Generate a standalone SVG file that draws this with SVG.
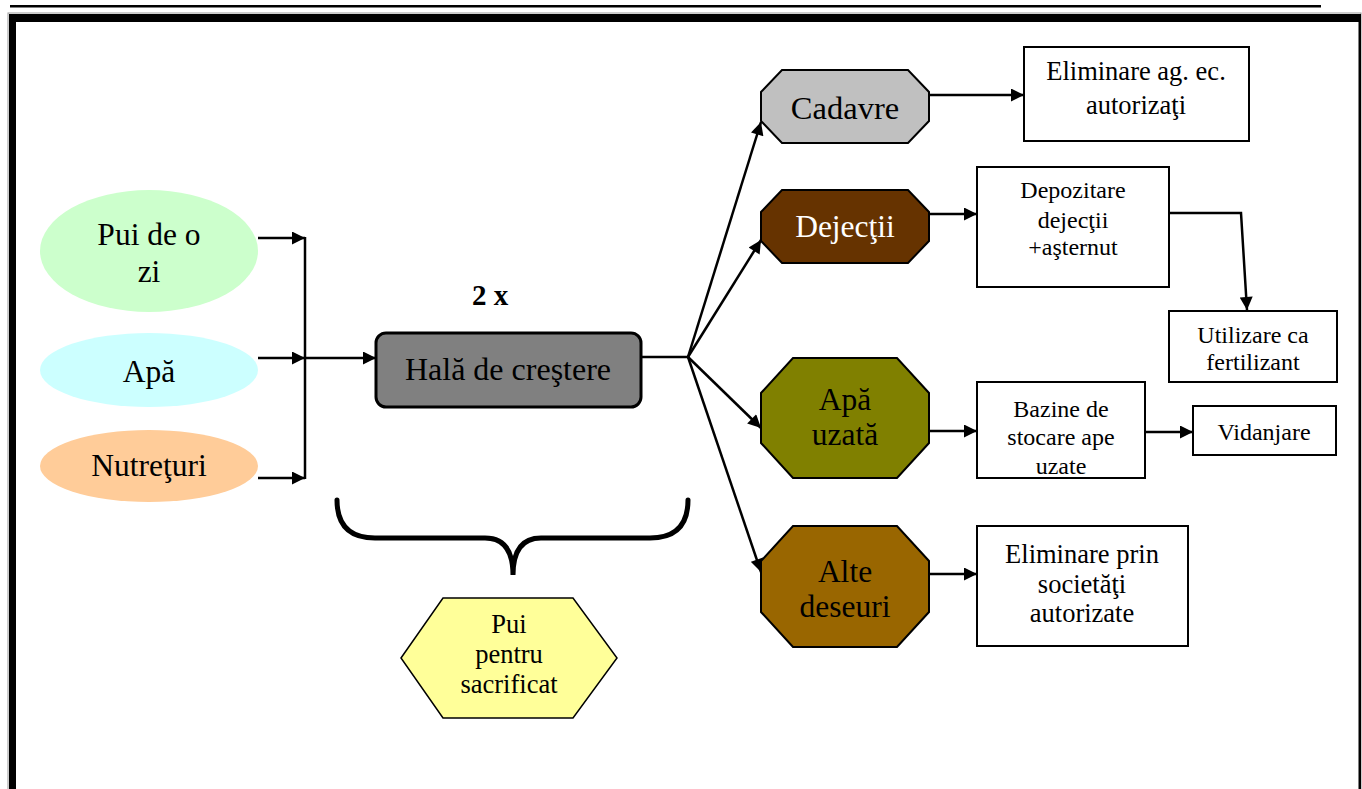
<svg xmlns="http://www.w3.org/2000/svg" width="1362" height="789" viewBox="0 0 1362 789">
<style>
text{font-family:'Liberation Serif',serif;fill:#000;text-anchor:middle}
.big{font-size:31.5px}
.mid{font-size:26.5px}
.sm{font-size:24px}
.box{fill:#fff;stroke:#000;stroke-width:2}
.oct{stroke:#000;stroke-width:2}
.con{fill:none;stroke:#000;stroke-width:2.5}
</style>
<defs>
<marker id="ah" viewBox="0 0 10 10" refX="10" refY="5" markerWidth="15" markerHeight="13" markerUnits="userSpaceOnUse" orient="auto"><path d="M0,0 L10,5 L0,10 z" fill="#000"/></marker>
<clipPath id="bzclip"><rect x="977" y="382" width="168" height="95"/></clipPath>
</defs>
<rect width="1362" height="789" fill="#fff"/>
<g id="frame">
<rect x="10" y="5" width="1311" height="2.5" fill="#000"/>
<rect x="8" y="13" width="1353" height="780" fill="none" stroke="#999" stroke-width="1"/>
<rect x="9" y="14" width="1352" height="8" fill="#000"/>
<rect x="9" y="14" width="7" height="780" fill="#000"/>
<rect x="1358.5" y="14" width="2.5" height="780" fill="#000"/>
</g>
<g id="connectors">
<line class="con" x1="258" y1="238" x2="305" y2="238" marker-end="url(#ah)"/>
<line class="con" x1="258" y1="358" x2="305" y2="358" marker-end="url(#ah)"/>
<line class="con" x1="258" y1="478" x2="305" y2="478" marker-end="url(#ah)"/>
<line class="con" x1="305" y1="237" x2="305" y2="479"/>
<line class="con" x1="305" y1="358" x2="376" y2="358" marker-end="url(#ah)"/>
<line class="con" x1="641" y1="357" x2="688" y2="357"/>
<line class="con" x1="688" y1="357" x2="761" y2="122" marker-end="url(#ah)"/>
<line class="con" x1="688" y1="357" x2="761" y2="240" marker-end="url(#ah)"/>
<line class="con" x1="688" y1="357" x2="761" y2="428" marker-end="url(#ah)"/>
<line class="con" x1="688" y1="357" x2="761" y2="572" marker-end="url(#ah)"/>
<line class="con" x1="929" y1="95" x2="1024" y2="95" marker-end="url(#ah)"/>
<line class="con" x1="929" y1="214" x2="977" y2="214" marker-end="url(#ah)"/>
<polyline class="con" points="1169,213 1241,213 1247,310" marker-end="url(#ah)"/>
<line class="con" x1="929" y1="431" x2="977" y2="431" marker-end="url(#ah)"/>
<line class="con" x1="1145" y1="432" x2="1193" y2="432" marker-end="url(#ah)"/>
<line class="con" x1="929" y1="574" x2="977" y2="574" marker-end="url(#ah)"/>
<path d="M337,500 Q337,538 375,538 L485,538 Q513,538 513,575 Q513,538 541,538 L650,538 Q688,538 688,500" fill="none" stroke="#000" stroke-width="5" stroke-linecap="round"/>
</g>
<g id="pui-zi">
<ellipse cx="149" cy="251" rx="109" ry="61" fill="#CCFFCC"/>
<text class="big" x="149" y="245">Pui de o</text>
<text class="big" x="149" y="282">zi</text>
</g>
<g id="apa">
<ellipse cx="149" cy="370" rx="109" ry="37" fill="#CCFFFF"/>
<text class="big" x="149" y="382">Apă</text>
</g>
<g id="nutreturi">
<ellipse cx="149" cy="466" rx="109" ry="36" fill="#FFCC99"/>
<text class="big" x="149" y="476">Nutreţuri</text>
</g>
<g id="label-2x">
<text x="490" y="305" style="font-size:29px;font-weight:bold">2 x</text>
</g>
<g id="hala">
<rect x="376" y="333" width="265" height="74" rx="10" ry="10" fill="#808080" stroke="#000" stroke-width="3"/>
<text x="508" y="380" style="font-size:32px">Hală de creştere</text>
</g>
<g id="cadavre">
<polygon class="oct" points="782,70 908,70 929,92 929,121 908,143 782,143 761,121 761,92" fill="#C0C0C0"/>
<text x="845" y="119" style="font-size:32.5px">Cadavre</text>
</g>
<g id="dejectii">
<polygon class="oct" points="782,190 908,190 929,212 929,241 908,263 782,263 761,241 761,212" fill="#663300"/>
<text class="big" x="845" y="237" style="fill:#fff">Dejecţii</text>
</g>
<g id="apa-uzata">
<polygon class="oct" points="793,358 897,358 929,393 929,443 897,478 793,478 761,443 761,393" fill="#808000"/>
<text class="big" x="845" y="410">Apă</text>
<text class="big" x="845" y="445">uzată</text>
</g>
<g id="alte-deseuri">
<polygon class="oct" points="793,526 897,526 929,561 929,612 897,647 793,647 761,612 761,561" fill="#996600"/>
<text class="big" x="845" y="582">Alte</text>
<text class="big" x="845" y="617">deseuri</text>
</g>
<g id="eliminare-ag">
<rect class="box" x="1024" y="47" width="225" height="94"/>
<text class="mid" x="1136" y="80">Eliminare ag. ec.</text>
<text class="mid" x="1136" y="114">autorizaţi</text>
</g>
<g id="depozitare">
<rect class="box" x="977" y="167" width="192" height="120"/>
<text class="sm" x="1073" y="198">Depozitare</text>
<text class="sm" x="1073" y="228">dejecţii</text>
<text class="sm" x="1073" y="255">+aşternut</text>
</g>
<g id="utilizare">
<rect class="box" x="1169" y="311" width="168" height="71"/>
<text class="sm" x="1253" y="343">Utilizare ca</text>
<text class="sm" x="1253" y="370">fertilizant</text>
</g>
<g id="bazine">
<rect class="box" x="977" y="382" width="168" height="96"/>
<g clip-path="url(#bzclip)">
<text class="sm" x="1061" y="417">Bazine de</text>
<text class="sm" x="1061" y="445">stocare ape</text>
<text class="sm" x="1061" y="474">uzate</text>
</g>
</g>
<g id="vidanjare">
<rect class="box" x="1193" y="406" width="143" height="49"/>
<text class="sm" x="1264" y="440">Vidanjare</text>
</g>
<g id="eliminare-prin">
<rect class="box" x="977" y="526" width="211" height="120"/>
<text class="mid" x="1082" y="563">Eliminare prin</text>
<text class="mid" x="1082" y="593">societăţi</text>
<text class="mid" x="1082" y="622">autorizate</text>
</g>
<g id="pui-sacrificat">
<polygon points="401,658 443,598 573,598 617,658 573,718 443,718" fill="#FFFF99" stroke="#000" stroke-width="1.5"/>
<text class="mid" x="509" y="633">Pui</text>
<text class="mid" x="509" y="663">pentru</text>
<text class="mid" x="509" y="693">sacrificat</text>
</g>
</svg>
